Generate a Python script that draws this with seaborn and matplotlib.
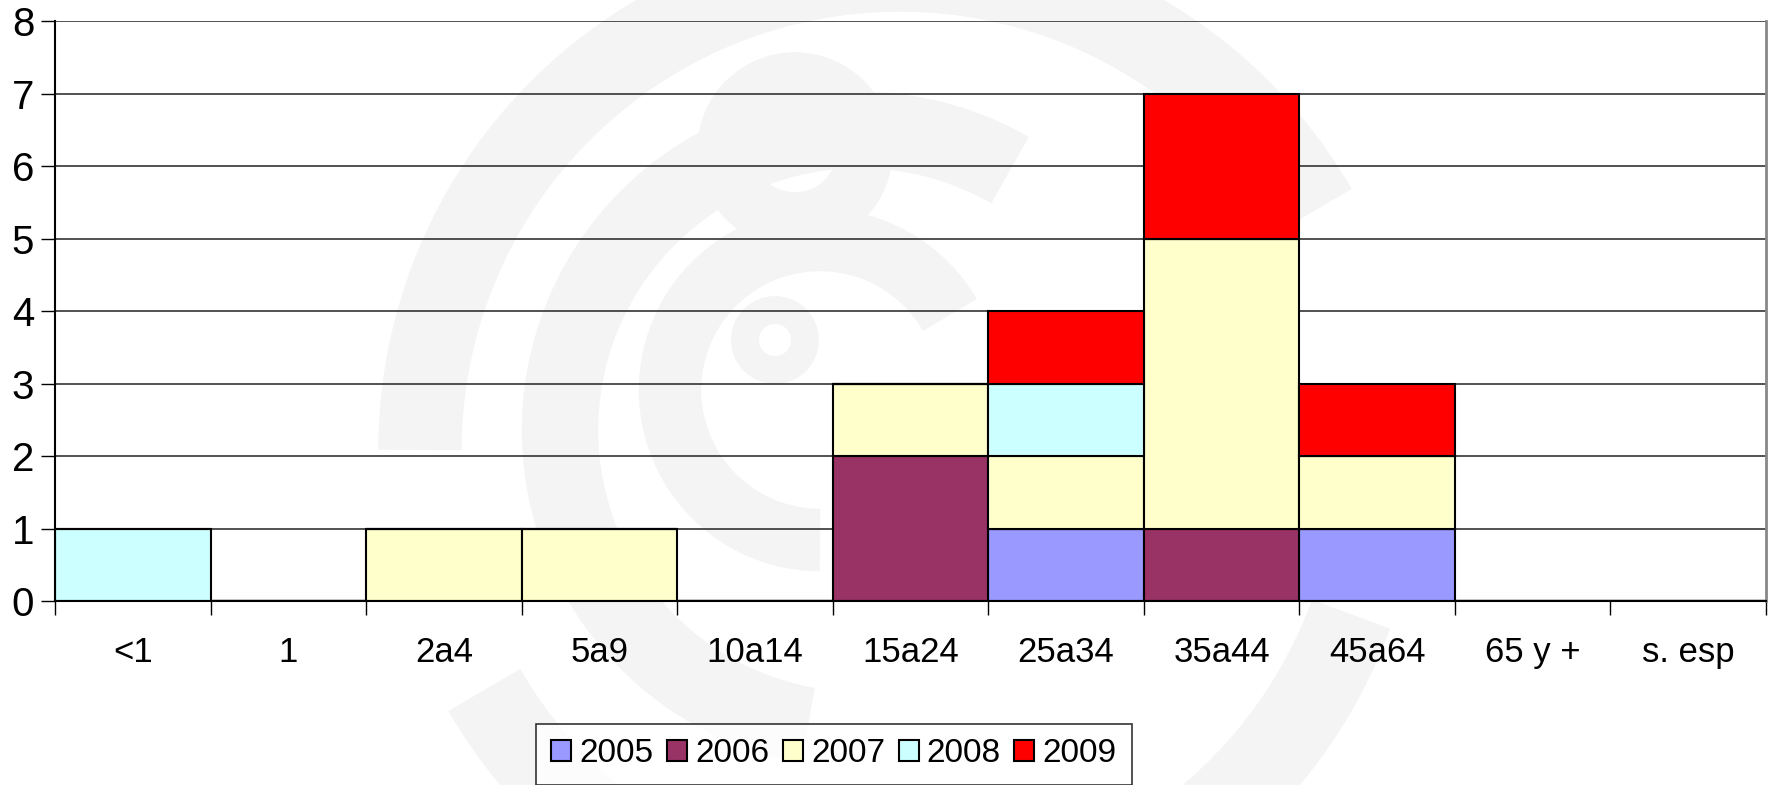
import numpy as np
import pandas as pd
import matplotlib
matplotlib.use("Agg")
import matplotlib.pyplot as plt
from matplotlib.patches import Arc, Circle, Patch
import seaborn as sns

categories = ["<1", "1", "2a4", "5a9", "10a14", "15a24", "25a34", "35a44", "45a64", "65 y +", "s. esp"]
years = ["2005", "2006", "2007", "2008", "2009"]
v2005 = [0, 0, 0, 0, 0, 0, 1, 0, 1, 0, 0]
v2006 = [0, 0, 0, 0, 0, 2, 0, 1, 0, 0, 0]
v2007 = [0, 0, 1, 1, 0, 1, 1, 4, 1, 0, 0]
v2008 = [1, 0, 0, 0, 0, 0, 1, 0, 0, 0, 0]
v2009 = [0, 0, 0, 0, 0, 0, 1, 2, 1, 0, 0]
yticks = [0, 1, 2, 3, 4, 5, 6, 7, 8]
colors = {"2005": "#9999FF", "2006": "#993366", "2007": "#FFFFCC",
          "2008": "#CCFFFF", "2009": "#FF0000"}

series = {"2005": v2005, "2006": v2006, "2007": v2007, "2008": v2008, "2009": v2009}
rows = []
for y in years:
    for i, c in enumerate(categories):
        rows.append({"pos": i, "year": y, "count": series[y][i]})
df = pd.DataFrame(rows)

sns.set_theme(style="white")
plt.rcParams["font.family"] = ["Liberation Sans", "DejaVu Sans"]
plt.rcParams["text.color"] = "black"
plt.rcParams["xtick.labelcolor"] = "black"
plt.rcParams["ytick.labelcolor"] = "black"

fs_y = 29
fs_x = 25
fs_l = 24

fig = plt.figure(figsize=(17.68, 7.85), dpi=100)

# faint watermark background
bg = fig.add_axes([0, 0, 1, 1], zorder=0)
bg.set_xlim(0, 1768)
bg.set_ylim(785, 0)
bg.axis("off")
wm = "#f4f4f4"
bg.add_patch(Arc((900, 450), 960, 960, theta1=180, theta2=330, lw=60, color=wm))
bg.add_patch(Arc((900, 450), 960, 960, theta1=20, theta2=150, lw=60, color=wm))
bg.add_patch(Arc((860, 430), 600, 600, theta1=100, theta2=300, lw=55, color=wm))
bg.add_patch(Arc((820, 390), 300, 300, theta1=90, theta2=330, lw=45, color=wm))
bg.add_patch(Circle((795, 150), 70, fill=False, lw=40, color=wm))
bg.add_patch(Circle((775, 340), 30, fill=False, lw=20, color=wm))

ax = fig.add_axes([55 / 1768, 1 - 601 / 785, (1766 - 55) / 1768, (601 - 21) / 785], zorder=1)
ax.patch.set_alpha(0)

sns.histplot(data=df, x="pos", weights="count", hue="year",
             hue_order=years[::-1], multiple="stack", discrete=True, shrink=1,
             palette=colors, alpha=1, edgecolor="black", linewidth=1.5,
             legend=False, ax=ax)

ax.set_xlim(-0.5, len(categories) - 0.5)
ax.set_ylim(0, 8)
ax.set_yticks(yticks)
ax.set_yticklabels([str(t) for t in yticks], fontsize=fs_y)
ax.set_xticks(np.arange(len(categories) + 1) - 0.5)
ax.set_xticklabels([])
ax.set_xticks(np.arange(len(categories)), minor=True)
ax.set_xticklabels(categories, minor=True, fontsize=fs_x)
ax.tick_params(axis="x", which="minor", length=0, pad=25)
ax.tick_params(axis="x", which="major", length=10, width=1, color="black", direction="out", bottom=True)
ax.tick_params(axis="y", length=10, width=1, color="black", direction="out", left=True, pad=5)
ax.set_xlabel("")
ax.set_ylabel("")
ax.yaxis.grid(True, color="#333333", linewidth=1.2)
ax.xaxis.grid(False)
ax.set_axisbelow(True)
for s in ["left", "bottom"]:
    ax.spines[s].set_color("black")
    ax.spines[s].set_linewidth(1.5)
ax.spines["top"].set_visible(False)
ax.spines["right"].set_color("#888888")
ax.spines["right"].set_linewidth(2)

handles = [Patch(facecolor=colors[y], edgecolor="black", linewidth=1.5, label=y) for y in years]
leg = fig.legend(handles=handles, loc="center", bbox_to_anchor=(834 / 1768, 1 - 754 / 785),
                 ncol=5, fontsize=fs_l, frameon=True, fancybox=False, edgecolor="black",
                 handlelength=0.6, handleheight=0.6, handletextpad=0.25, columnspacing=0.4,
                 borderpad=0.45)
leg.get_frame().set_linewidth(1.2)
leg.get_frame().set_facecolor("white")

fig.savefig("out.png", dpi=100)
